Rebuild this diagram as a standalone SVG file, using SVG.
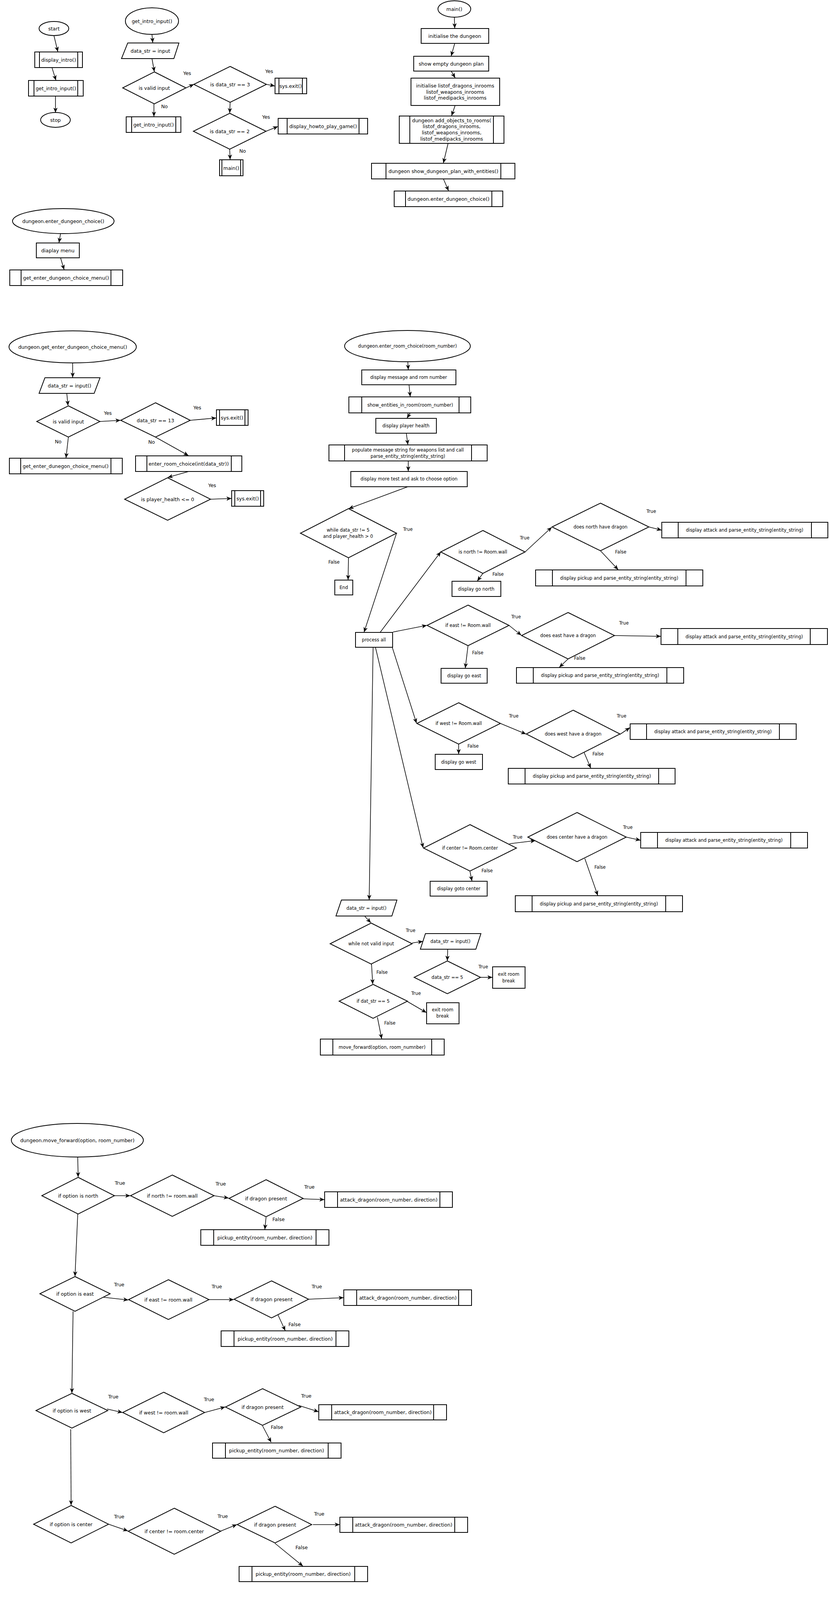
<svg xmlns="http://www.w3.org/2000/svg" width="2122" height="7752" viewBox="0 0 2122 7752">
<style>
.s{fill:#fff;stroke:#000;stroke-width:2}
.v{fill:none;stroke:#000;stroke-width:2}
.t{font-family:"DejaVu Sans","Liberation Sans",sans-serif;font-size:12.5px;text-anchor:middle;dominant-baseline:central;fill:#000}
.r{font-size:11.5px}
.c{fill:none;stroke:#000;stroke-width:1.6;marker-end:url(#a)}
</style>
<defs>
<marker id="a" viewBox="0 0 12 10" refX="11.5" refY="5" markerWidth="13" markerHeight="11" markerUnits="userSpaceOnUse" orient="auto"><path d="M0,0 L12,5 L0,10 L3.5,5 z" fill="#000"/></marker>
</defs>
<rect width="2122" height="7752" fill="#fff"/>

<g id="connectors">
<path class="c" d="M138,91 L148,132"/><path class="c" d="M133,173 L143,205"/><path class="c" d="M142,246 L142,288"/>
<path class="c" d="M389,88 L391,109"/><path class="c" d="M389,150 L395,183"/><path class="c" d="M476,225 L496,216"/><path class="c" d="M682,216 L703,220"/><path class="c" d="M589,262 L588,289"/><path class="c" d="M681,336 L711,324"/><path class="c" d="M588,382 L589,408"/><path class="c" d="M394,266 L394,298"/>
<path class="c" d="M1163,44 L1164,72"/><path class="c" d="M1164,111 L1155,143"/><path class="c" d="M1155,182 L1165,199"/><path class="c" d="M1165,270 L1156,296"/><path class="c" d="M1147,367 L1135,417"/><path class="c" d="M1135,458 L1148,488"/>
<path class="c" d="M155,598 L151,621"/><path class="c" d="M155,660 L164,690"/>
<path class="c" d="M186,929 L186,966"/><path class="c" d="M171,1007 L174,1038"/><path class="c" d="M256,1079 L308,1076"/><path class="c" d="M487,1076 L553,1070"/><path class="c" d="M175,1119 L169,1172"/><path class="c" d="M398,1119 L482,1166"/><path class="c" d="M483,1207 L430,1222"/><path class="c" d="M539,1278 L592,1276"/>
<path class="c" d="M1044,927 L1045,946"/><path class="c" d="M1047,985 L1050,1015"/><path class="c" d="M1050,1057 L1042,1070"/><path class="c" d="M1040,1109 L1044,1138"/><path class="c" d="M1045,1180 L1045,1206"/><path class="c" d="M1044,1246 L893,1302"/>
<path class="c" d="M1015,1365 L932,1618"/><path class="c" d="M892,1428 L891,1484"/>
<path class="c" d="M973,1619 L1128,1413"/><path class="c" d="M1344,1413 L1412,1350"/><path class="c" d="M1661,1349 L1693,1357"/><path class="c" d="M1537,1410 L1582,1458"/><path class="c" d="M1236,1468 L1222,1487"/>
<path class="c" d="M1006,1618 L1092,1601"/><path class="c" d="M1303,1601 L1334,1626"/><path class="c" d="M1573,1627 L1691,1629"/><path class="c" d="M1454,1687 L1432,1708"/><path class="c" d="M1198,1653 L1191,1710"/>
<path class="c" d="M1004,1657 L1066,1851"/><path class="c" d="M1281,1852 L1346,1879"/><path class="c" d="M1587,1880 L1612,1863"/><path class="c" d="M1495,1926 L1512,1966"/><path class="c" d="M1174,1905 L1174,1930"/>
<path class="c" d="M961,1657 L1083,2170"/><path class="c" d="M1304,2160 L1370,2152"/><path class="c" d="M1603,2143 L1639,2151"/><path class="c" d="M1497,2198 L1530,2292"/><path class="c" d="M1203,2231 L1208,2255"/>
<path class="c" d="M955,1657 L945,2303"/><path class="c" d="M934,2346 L949,2362"/><path class="c" d="M1055,2414 L1082,2410"/><path class="c" d="M1146,2431 L1145,2459"/><path class="c" d="M1230,2502 L1260,2502"/><path class="c" d="M951,2468 L954,2519"/><path class="c" d="M1043,2564 L1091,2592"/><path class="c" d="M966,2604 L977,2659"/>
<path class="c" d="M199,2962 L200,3013"/><path class="c" d="M293,3061 L333,3061"/><path class="c" d="M548,3061 L585,3067"/><path class="c" d="M776,3069 L830,3071"/><path class="c" d="M681,3116 L678,3147"/><path class="c" d="M199,3108 L192,3267"/>
<path class="c" d="M265,3321 L328,3328"/><path class="c" d="M535,3327 L598,3327"/><path class="c" d="M790,3326 L879,3322"/><path class="c" d="M711,3365 L730,3406"/><path class="c" d="M187,3357 L184,3566"/>
<path class="c" d="M274,3607 L313,3616"/><path class="c" d="M524,3616 L576,3602"/><path class="c" d="M765,3598 L815,3614"/><path class="c" d="M672,3650 L694,3692"/><path class="c" d="M181,3659 L182,3853"/>
<path class="c" d="M278,3902 L327,3919"/><path class="c" d="M564,3920 L606,3903"/><path class="c" d="M801,3903 L869,3903"/><path class="c" d="M704,3951 L775,4009"/>
<path class="c" d="M213,4301 L213,4321"/><path class="c" d="M140,4298 L152,5653"/><path class="c" d="M320,4374 L585,4356"/><path class="c" d="M320,4374 L553,4513"/><path class="c" d="M775,4352 L861,4361"/><path class="c" d="M681,4403 L739,4435"/><path class="c" d="M213,4427 L197,4644"/>
<path class="c" d="M305,4698 L497,4686"/><path class="c" d="M305,4698 L524,4839"/><path class="c" d="M681,4686 L752,4694"/><path class="c" d="M590,4732 L628,4766"/><path class="c" d="M194,4752 L178,4953"/>
<path class="c" d="M288,5009 L517,5040"/><path class="c" d="M288,5009 L488,5189"/><path class="c" d="M700,5040 L734,5046"/><path class="c" d="M609,5086 L620,5116"/><path class="c" d="M178,5064 L188,5295"/>
<path class="c" d="M297,5351 L455,5361"/><path class="c" d="M297,5351 L506,5552"/><path class="c" d="M649,5362 L727,5366"/><path class="c" d="M552,5410 L583,5460"/>
<path class="c" d="M150,5696 L147,5727"/><path class="c" d="M154,5767 L165,5798"/>
<path class="c" d="M233,6040 L236,6102"/><path class="c" d="M230,6040 L135,7216"/><path class="c" d="M232,6040 L135,7518"/>
<path class="c" d="M439,6153 L492,6143"/><path class="c" d="M583,6170 L605,6188"/><path class="c" d="M232,6204 L222,6283"/>
<path class="c" d="M356,6316 L453,6303"/><path class="c" d="M601,6292 L658,6300"/><path class="c" d="M867,6300 L949,6292"/><path class="c" d="M766,6350 L767,6363"/><path class="c" d="M783,6402 L792,6421"/><path class="c" d="M218,6386 L216,6463"/>
<path class="c" d="M363,6530 L457,6539"/><path class="c" d="M606,6531 L649,6527"/><path class="c" d="M857,6527 L957,6540"/><path class="c" d="M755,6577 L755,6593"/><path class="c" d="M758,6633 L780,6650"/><path class="c" d="M214,6567 L207,6679"/>
<path class="c" d="M411,6727 L462,6750"/><path class="c" d="M610,6750 L644,6773"/><path class="c" d="M851,6776 L957,6783"/><path class="c" d="M743,6824 L741,6857"/><path class="c" d="M755,6897 L765,6913"/><path class="c" d="M207,6782 L192,6977"/>
<path class="c" d="M236,7009 L278,7014"/><path class="c" d="M422,7089 L389,7108"/><path class="c" d="M387,7151 L382,7173"/>
<path class="c" d="M219,7285 L281,7294"/><path class="c" d="M433,7341 L400,7359"/><path class="c" d="M407,7401 L408,7416"/>
<path class="c" d="M255,7578 L308,7578"/><path class="c" d="M446,7623 L442,7647"/><path class="c" d="M439,7689 L445,7709"/>
</g>

<g id="labels" class="t">
<text x="479" y="187">Yes</text><text x="421" y="272">No</text><text x="689" y="182">Yes</text><text x="681" y="299">Yes</text><text x="621" y="386">No</text>
<text x="276" y="1057">Yes</text><text x="149" y="1130">No</text><text x="505" y="1043">Yes</text><text x="388" y="1131">No</text><text x="543" y="1242">Yes</text>
<g class="r">
<text x="1044" y="1355">True</text><text x="855" y="1439">False</text><text x="1343" y="1377">True</text><text x="1667" y="1309">True</text><text x="1589" y="1413">False</text><text x="1275" y="1470">False</text>
<text x="1321" y="1579">True</text><text x="1597" y="1595">True</text><text x="1484" y="1685">False</text><text x="1223" y="1671">False</text>
<text x="1315" y="1833">True</text><text x="1591" y="1833">True</text><text x="1211" y="1910">False</text><text x="1531" y="1930">False</text>
<text x="1325" y="2143">True</text><text x="1607" y="2118">True</text><text x="1536" y="2220">False</text><text x="1247" y="2229">False</text>
<text x="1051" y="2382">True</text><text x="1237" y="2475">True</text><text x="978" y="2489">False</text><text x="1065" y="2543">True</text><text x="998" y="2619">False</text>
</g>
<text x="307" y="3028">True</text><text x="565" y="3030">True</text><text x="792" y="3038">True</text><text x="713" y="3121">False</text>
<text x="305" y="3288">True</text><text x="555" y="3293">True</text><text x="811" y="3293">True</text><text x="754" y="3390">False</text>
<text x="290" y="3575">True</text><text x="535" y="3582">True</text><text x="784" y="3573">True</text><text x="709" y="3653">False</text>
<text x="305" y="3882">True</text><text x="570" y="3881">True</text><text x="817" y="3875">True</text><text x="772" y="3961">False</text>
<text x="380" y="4389">True</text><text x="808" y="4337">True</text><text x="739" y="4410">False</text>
<text x="372" y="4711">True</text><text x="713" y="4665">True</text><text x="645" y="4732">False</text>
<text x="356" y="5033">True</text><text x="710" y="5023">True</text><text x="650" y="5091">False</text>
<text x="352" y="5368">True</text><text x="680" y="5340">True</text><text x="598" y="5431">False</text>
</g>

<!-- intro -->
<g id="start"><ellipse class="s" cx="138" cy="73" rx="38" ry="18"/><text class="t" x="138" y="73">start</text></g>
<g id="display_intro"><rect class="s" x="89" y="133" width="122" height="40"/><path class="v" d="M101,133V173M199,133V173"/><text class="t" x="150" y="153">display_intro()</text></g>
<g id="get_intro_input_call"><rect class="s" x="73" y="206" width="140" height="40"/><path class="v" d="M87,206V246M199,206V246"/><text class="t" x="143" y="226">get_intro_input()</text></g>
<g id="stop"><ellipse class="s" cx="142" cy="307" rx="38" ry="19"/><text class="t" x="142" y="307">stop</text></g>

<g id="gi_start"><ellipse class="s" cx="389" cy="54" rx="68" ry="34"/><text class="t" x="389" y="54">get_intro_input()</text></g>
<g id="gi_input"><polygon class="s" points="327,110 458,110 445,150 311,150"/><text class="t" x="385" y="130">data_str = input</text></g>
<g id="gi_valid"><polygon class="s" points="395,184 476,225 395,266 314,225"/><text class="t" x="395" y="225">is valid input</text></g>
<g id="gi_eq3"><polygon class="s" points="589,170 682,216 589,262 496,216"/><text class="t" x="589" y="216">is data_str == 3</text></g>
<g id="gi_exit"><rect class="s" x="704" y="200" width="81" height="40"/><path class="v" d="M714,200V240M774,200V240"/><text class="t" x="744" y="220">sys.exit()</text></g>
<g id="gi_eq2"><polygon class="s" points="588,290 681,336 588,382 495,336"/><text class="t" x="588" y="336">is data_str == 2</text></g>
<g id="gi_howto"><rect class="s" x="712" y="303" width="229" height="40"/><path class="v" d="M735,303V343M919,303V343"/><text class="t" x="827" y="323">display_howto_play_game()</text></g>
<g id="gi_main"><rect class="s" x="562" y="409" width="60" height="41"/><path class="v" d="M568,409V450M616,409V450"/><text class="t" x="592" y="430">main()</text></g>
<g id="gi_again"><rect class="s" x="323" y="299" width="140" height="40"/><path class="v" d="M337,299V339M450,299V339"/><text class="t" x="393" y="319">get_intro_input()</text></g>

<!-- main -->
<g id="main"><ellipse class="s" cx="1163" cy="23" rx="42" ry="21"/><text class="t" x="1163" y="23">main()</text></g>
<g id="init_dungeon"><rect class="s" x="1078" y="73" width="173" height="38"/><text class="t" x="1164" y="92">initialise the dungeon</text></g>
<g id="show_empty"><rect class="s" x="1059" y="144" width="192" height="38"/><text class="t" x="1155" y="163">show empty dungeon plan</text></g>
<g id="init_lists"><rect class="s" x="1052" y="200" width="227" height="70"/><text class="t" x="1165" y="219">initialise listof_dragons_inrooms</text><text class="t" x="1165" y="235">listof_weapons_inrooms</text><text class="t" x="1165" y="250">listof_medipacks_inrooms</text></g>
<g id="add_objects"><rect class="s" x="1022" y="297" width="268" height="70"/><path class="v" d="M1049,297V367M1263,297V367"/><text class="t" x="1156" y="308">dungeon add_objects_to_rooms(</text><text class="t" x="1156" y="323">listof_dragons_inrooms,</text><text class="t" x="1156" y="339">listof_weapons_inrooms,</text><text class="t" x="1156" y="355">listof_medipacks_inrooms</text></g>
<g id="show_plan"><rect class="s" x="951" y="418" width="367" height="40"/><path class="v" d="M988,418V458M1282,418V458"/><text class="t" x="1135" y="438">dungeon show_dungeon_plan_with_entities()</text></g>
<g id="enter_choice_call"><rect class="s" x="1009" y="489" width="278" height="40"/><path class="v" d="M1038,489V529M1259,489V529"/><text class="t" x="1148" y="509">dungeon.enter_dungeon_choice()</text></g>

<!-- enter_dungeon_choice -->
<g id="edc_start"><ellipse class="s" cx="162" cy="566" rx="130" ry="32"/><text class="t" x="162" y="566">dungeon.enter_dungeon_choice()</text></g>
<g id="edc_menu"><rect class="s" x="93" y="622" width="110" height="38"/><text class="t" x="148" y="641">diaplay menu</text></g>
<g id="edc_call"><rect class="s" x="25" y="691" width="289" height="40"/><path class="v" d="M54,691V731M284,691V731"/><text class="t" x="169" y="711">get_enter_dungeon_choice_menu()</text></g>

<!-- get_enter_dungeon_choice_menu -->
<g id="gm_start"><ellipse class="s" cx="186" cy="888" rx="163" ry="41"/><text class="t" x="186" y="888">dungeon.get_enter_dungeon_choice_menu()</text></g>
<g id="gm_input"><polygon class="s" points="115,967 256,967 241,1007 100,1007"/><text class="t" x="178" y="987">data_str = input()</text></g>
<g id="gm_valid"><polygon class="s" points="175,1039 256,1079 175,1119 94,1079"/><text class="t" x="175" y="1079">is valid input</text></g>
<g id="gm_eq13"><polygon class="s" points="398,1031 487,1076 398,1119 309,1076"/><text class="t" x="398" y="1076">data_str == 13</text></g>
<g id="gm_exit"><rect class="s" x="554" y="1049" width="81" height="40"/><path class="v" d="M562,1049V1089M627,1049V1089"/><text class="t" x="594" y="1069">sys.exit()</text></g>
<g id="gm_again"><rect class="s" x="24" y="1173" width="289" height="40"/><path class="v" d="M53,1173V1213M284,1173V1213"/><text class="t" x="168" y="1193">get_enter_dunegon_choice_menu()</text></g>
<g id="gm_enter"><rect class="s" x="347" y="1167" width="272" height="40"/><path class="v" d="M376,1167V1207M592,1167V1207"/><text class="t" x="483" y="1187">enter_room_choice(int(data_str))</text></g>
<g id="gm_health"><polygon class="s" points="429,1223 539,1278 429,1332 319,1278"/><text class="t" x="429" y="1278">is player_health &lt;= 0</text></g>
<g id="gm_exit2"><rect class="s" x="593" y="1256" width="82" height="40"/><path class="v" d="M601,1256V1296M667,1256V1296"/><text class="t" x="634" y="1276">sys.exit()</text></g>

<!-- enter_room_choice -->
<g class="r">
<g id="rc_start"><ellipse class="s" cx="1043" cy="886" rx="161" ry="40"/><text class="t r" x="1043" y="886">dungeon.enter_room_choice(room_number)</text></g>
<g id="rc_msg"><rect class="s" x="926" y="947" width="241" height="38"/><text class="t r" x="1046" y="966">display message and rom number</text></g>
<g id="rc_show"><rect class="s" x="893" y="1016" width="312" height="41"/><path class="v" d="M926,1016V1057M1175,1016V1057"/><text class="t r" x="1050" y="1037">show_entities_in_room(room_number)</text></g>
<g id="rc_health"><rect class="s" x="962" y="1071" width="155" height="38"/><text class="t r" x="1039" y="1090">display player health</text></g>
<g id="rc_populate"><rect class="s" x="842" y="1139" width="405" height="41"/><path class="v" d="M882,1139V1180M1207,1139V1180"/><text class="t r" x="1044" y="1152">populate message string for weapons list and call</text><text class="t r" x="1044" y="1168">parse_entity_string(entity_string)</text></g>
<g id="rc_more"><rect class="s" x="898" y="1207" width="298" height="39"/><text class="t r" x="1047" y="1226">display more test and ask to choose option</text></g>
<g id="rc_while"><polygon class="s" points="892,1302 1015,1365 892,1428 769,1365"/><text class="t r" x="891" y="1357">while data_str != 5</text><text class="t r" x="891" y="1373">and player_health &gt; 0</text></g>
<g id="rc_end"><rect class="s" x="857" y="1485" width="46" height="38"/><text class="t r" x="880" y="1504">End</text></g>
<g id="rc_process"><rect class="s" x="910" y="1619" width="95" height="38"/><text class="t r" x="957" y="1638">process all</text></g>
<g id="rc_north"><polygon class="s" points="1236,1358 1344,1413 1236,1468 1128,1413"/><text class="t r" x="1236" y="1413">is north != Room.wall</text></g>
<g id="rc_north_dragon"><polygon class="s" points="1537,1288 1661,1349 1537,1410 1413,1349"/><text class="t r" x="1537" y="1349">does north have dragon</text></g>
<g id="rc_north_attack"><rect class="s" x="1694" y="1337" width="425" height="40"/><path class="v" d="M1736,1337V1377M2077,1337V1377"/><text class="t r" x="1906" y="1357">display attack and parse_entity_string(entity_string)</text></g>
<g id="rc_north_pickup"><rect class="s" x="1371" y="1459" width="428" height="41"/><path class="v" d="M1414,1459V1500M1756,1459V1500"/><text class="t r" x="1585" y="1480">display pickup and parse_entity_string(entity_string)</text></g>
<g id="rc_go_north"><rect class="s" x="1157" y="1488" width="125" height="39"/><text class="t r" x="1219" y="1508">display go north</text></g>
<g id="rc_east"><polygon class="s" points="1198,1549 1303,1601 1198,1653 1093,1601"/><text class="t r" x="1198" y="1601">if east != Room.wall</text></g>
<g id="rc_east_dragon"><polygon class="s" points="1454,1568 1573,1627 1454,1687 1335,1627"/><text class="t r" x="1454" y="1627">does east have a dragon</text></g>
<g id="rc_east_attack"><rect class="s" x="1692" y="1609" width="426" height="41"/><path class="v" d="M1735,1609V1650M2074,1609V1650"/><text class="t r" x="1905" y="1630">display attack and parse_entity_string(entity_string)</text></g>
<g id="rc_east_pickup"><rect class="s" x="1322" y="1709" width="428" height="40"/><path class="v" d="M1365,1709V1749M1707,1709V1749"/><text class="t r" x="1536" y="1729">display pickup and parse_entity_string(entity_string)</text></g>
<g id="rc_go_east"><rect class="s" x="1129" y="1711" width="118" height="38"/><text class="t r" x="1188" y="1730">display go east</text></g>
<g id="rc_west"><polygon class="s" points="1174,1799 1281,1852 1174,1905 1067,1852"/><text class="t r" x="1174" y="1852">if west != Room.wall</text></g>
<g id="rc_west_dragon"><polygon class="s" points="1467,1818 1587,1879 1467,1940 1347,1879"/><text class="t r" x="1467" y="1879">does west have a dragon</text></g>
<g id="rc_west_attack"><rect class="s" x="1613" y="1853" width="425" height="40"/><path class="v" d="M1655,1853V1893M1995,1853V1893"/><text class="t r" x="1825" y="1873">display attack and parse_entity_string(entity_string)</text></g>
<g id="rc_west_pickup"><rect class="s" x="1301" y="1967" width="427" height="40"/><path class="v" d="M1344,1967V2007M1686,1967V2007"/><text class="t r" x="1515" y="1987">display pickup and parse_entity_string(entity_string)</text></g>
<g id="rc_go_west"><rect class="s" x="1114" y="1931" width="121" height="39"/><text class="t r" x="1174" y="1951">display go west</text></g>
<g id="rc_center"><polygon class="s" points="1203,2111 1322,2171 1203,2230 1084,2171"/><text class="t r" x="1203" y="2171">if center != Room.center</text></g>
<g id="rc_center_dragon"><polygon class="s" points="1477,2080 1603,2143 1477,2206 1351,2143"/><text class="t r" x="1477" y="2143">does center have a dragon</text></g>
<g id="rc_center_attack"><rect class="s" x="1640" y="2131" width="427" height="40"/><path class="v" d="M1683,2131V2171M2024,2131V2171"/><text class="t r" x="1853" y="2151">display attack and parse_entity_string(entity_string)</text></g>
<g id="rc_center_pickup"><rect class="s" x="1319" y="2293" width="428" height="41"/><path class="v" d="M1362,2293V2334M1704,2293V2334"/><text class="t r" x="1533" y="2314">display pickup and parse_entity_string(entity_string)</text></g>
<g id="rc_goto_center"><rect class="s" x="1101" y="2256" width="146" height="38"/><text class="t r" x="1174" y="2275">display goto center</text></g>
<g id="rc_input"><polygon class="s" points="874,2304 1016,2304 1003,2345 860,2345"/><text class="t r" x="938" y="2325">data_str = input()</text></g>
<g id="rc_notvalid"><polygon class="s" points="950,2363 1055,2416 950,2468 845,2416"/><text class="t r" x="950" y="2416">while not valid input</text></g>
<g id="rc_input2"><polygon class="s" points="1089,2390 1231,2390 1218,2430 1076,2430"/><text class="t r" x="1153" y="2410">data_str = input()</text></g>
<g id="rc_eq5a"><polygon class="s" points="1145,2460 1230,2502 1145,2544 1060,2502"/><text class="t r" x="1145" y="2502">data_str == 5</text></g>
<g id="rc_exit_a"><rect class="s" x="1261" y="2475" width="83" height="55"/><text class="t r" x="1302" y="2494">exit room</text><text class="t r" x="1302" y="2511">break</text></g>
<g id="rc_eq5b"><polygon class="s" points="955,2520 1043,2563 955,2607 868,2563"/><text class="t r" x="955" y="2563">if dat_str == 5</text></g>
<g id="rc_exit_b"><rect class="s" x="1092" y="2567" width="83" height="54"/><text class="t r" x="1133" y="2585">exit room</text><text class="t r" x="1133" y="2601">break</text></g>
<g id="rc_move"><rect class="s" x="820" y="2660" width="317" height="41"/><path class="v" d="M852,2660V2701M1105,2660V2701"/><text class="t r" x="978" y="2681">move_forward(option, room_numnber)</text></g>
</g>

<!-- move_forward -->
<g id="mf_start"><ellipse class="s" cx="198" cy="2919" rx="169" ry="43"/><text class="t" x="198" y="2919">dungeon.move_forward(option, room_number)</text></g>
<g id="mf_north"><polygon class="s" points="200,3014 293,3061 200,3108 107,3061"/><text class="t" x="200" y="3061">if option is north</text></g>
<g id="mf_north_wall"><polygon class="s" points="441,3008 548,3061 441,3114 334,3061"/><text class="t" x="441" y="3061">if north != room.wall</text></g>
<g id="mf_north_dragon"><polygon class="s" points="681,3020 776,3068 681,3115 586,3068"/><text class="t" x="681" y="3068">if dragon present</text></g>
<g id="mf_north_attack"><rect class="s" x="831" y="3051" width="327" height="40"/><path class="v" d="M864,3051V3091M1126,3051V3091"/><text class="t" x="995" y="3071">attack_dragon(room_number, direction)</text></g>
<g id="mf_north_pickup"><rect class="s" x="514" y="3148" width="328" height="40"/><path class="v" d="M547,3148V3188M809,3148V3188"/><text class="t" x="678" y="3168">pickup_entity(room_number, direction)</text></g>
<g id="mf_east"><polygon class="s" points="192,3268 282,3312 192,3357 102,3312"/><text class="t" x="192" y="3312">if option is east</text></g>
<g id="mf_east_wall"><polygon class="s" points="431,3276 535,3327 431,3378 329,3327"/><text class="t" x="431" y="3327">if east != room.wall</text></g>
<g id="mf_east_dragon"><polygon class="s" points="695,3279 790,3326 695,3374 599,3326"/><text class="t" x="695" y="3326">if dragon present</text></g>
<g id="mf_east_attack"><rect class="s" x="880" y="3302" width="327" height="40"/><path class="v" d="M913,3302V3342M1174,3302V3342"/><text class="t" x="1044" y="3322">attack_dragon(room_number, direction)</text></g>
<g id="mf_east_pickup"><rect class="s" x="566" y="3407" width="327" height="40"/><path class="v" d="M599,3407V3447M860,3407V3447"/><text class="t" x="730" y="3427">pickup_entity(room_number, direction)</text></g>
<g id="mf_west"><polygon class="s" points="184,3567 276,3611 184,3656 92,3611"/><text class="t" x="184" y="3611">if option is west</text></g>
<g id="mf_west_wall"><polygon class="s" points="419,3564 524,3616 419,3668 314,3616"/><text class="t" x="419" y="3616">if west != room.wall</text></g>
<g id="mf_west_dragon"><polygon class="s" points="672,3555 770,3602 672,3649 577,3602"/><text class="t" x="672" y="3602">if dragon present</text></g>
<g id="mf_west_attack"><rect class="s" x="816" y="3596" width="327" height="39"/><path class="v" d="M849,3596V3635M1110,3596V3635"/><text class="t" x="980" y="3615">attack_dragon(room_number, direction)</text></g>
<g id="mf_west_pickup"><rect class="s" x="544" y="3694" width="329" height="39"/><path class="v" d="M577,3694V3733M840,3694V3733"/><text class="t" x="708" y="3713">pickup_entity(room_number, direction)</text></g>
<g id="mf_center"><polygon class="s" points="182,3854 278,3902 182,3950 86,3902"/><text class="t" x="182" y="3902">if option is center</text></g>
<g id="mf_center_wall"><polygon class="s" points="446,3861 565,3920 446,3979 328,3920"/><text class="t" x="446" y="3920">if center != room.center</text></g>
<g id="mf_center_dragon"><polygon class="s" points="704,3856 798,3903 704,3950 607,3903"/><text class="t" x="704" y="3903">if dragon present</text></g>
<g id="mf_center_attack"><rect class="s" x="870" y="3884" width="327" height="39"/><path class="v" d="M903,3884V3923M1164,3884V3923"/><text class="t" x="1033" y="3903">attack_dragon(room_number, direction)</text></g>
<g id="mf_center_pickup"><rect class="s" x="612" y="4010" width="329" height="39"/><path class="v" d="M645,4010V4049M908,4010V4049"/><text class="t" x="776" y="4029">pickup_entity(room_number, direction)</text></g>

<!-- pickup_entity -->
<g id="pe_start"><ellipse class="s" cx="207" cy="4257" rx="174" ry="43"/><text class="t" x="207" y="4257">dungeon.pickup_entity(room_number, direction)</text></g>
<g id="pe_north"><polygon class="s" points="213,4322 320,4374 213,4427 107,4374"/><text class="t" x="213" y="4374">if direction == north</text></g>
<g id="pe_north_health"><polygon class="s" points="681,4309 775,4356 681,4402 586,4356"/><text class="t" x="681" y="4356">if health to north</text></g>
<g id="pe_north_set"><rect class="s" x="862" y="4345" width="183" height="37"/><text class="t" x="953" y="4363">set player health == 100</text></g>
<g id="pe_north_append"><rect class="s" x="518" y="4436" width="444" height="38"/><text class="t" x="740" y="4455">player_weapons_list.append(room_obj_lst(room_number-1).north)</text></g>
<g id="pe_north_print"><rect class="s" x="243" y="4514" width="623" height="40"/><path class="v" d="M307,4514V4554M804,4514V4554"/><text class="t" x="555" y="4534">print pickedup and parse_entity_string(room_obj_lst[room_number-1)].north)</text></g>
<g id="pe_east"><polygon class="s" points="197,4645 305,4698 197,4752 88,4698"/><text class="t" x="197" y="4698">elif direction == east</text></g>
<g id="pe_east_health"><polygon class="s" points="590,4641 681,4686 590,4732 497,4686"/><text class="t" x="590" y="4686">if health to east</text></g>
<g id="pe_east_set"><rect class="s" x="753" y="4676" width="152" height="38"/><text class="t" x="829" y="4695">player_health = 100</text></g>
<g id="pe_east_append"><rect class="s" x="402" y="4767" width="455" height="38"/><text class="t" x="629" y="4786">player_weapons_list.append(room_obj_lst[(room_number - 1)].east)</text></g>
<g id="pe_east_print"><rect class="s" x="211" y="4840" width="630" height="40"/><path class="v" d="M274,4840V4880M779,4840V4880"/><text class="t" x="526" y="4860">print pickedup and parse_entity_string(room_obj_lst[(room_number - 1)].east)</text></g>
<g id="pe_west"><polygon class="s" points="178,4954 288,5009 178,5064 68,5009"/><text class="t" x="178" y="5009">elif direction == west</text></g>
<g id="pe_west_health"><polygon class="s" points="609,4995 700,5040 609,5086 517,5040"/><text class="t" x="609" y="5040">if health to west</text></g>
<g id="pe_west_set"><rect class="s" x="735" y="5028" width="152" height="38"/><text class="t" x="811" y="5047">player_health = 100</text></g>
<g id="pe_west_append"><rect class="s" x="392" y="5117" width="459" height="37"/><text class="t" x="621" y="5136">player_weapons_list.append(room_obj_lst[(room_number - 1)].west)</text></g>
<g id="pe_west_print"><rect class="s" x="197" y="5190" width="634" height="40"/><path class="v" d="M260,5190V5230M766,5190V5230"/><text class="t" x="513" y="5210">print pickedup and parse_entity_string(room_obj_lst[(room_number - 1)].west)</text></g>
<g id="pe_center"><polygon class="s" points="188,5296 297,5351 188,5405 78,5351"/><text class="t" x="188" y="5351">elif direction = center</text></g>
<g id="pe_center_health"><polygon class="s" points="552,5313 649,5361 552,5410 455,5361"/><text class="t" x="552" y="5361">if health to center</text></g>
<g id="pe_center_set"><rect class="s" x="728" y="5348" width="151" height="38"/><text class="t" x="803" y="5367">player_health = 100</text></g>
<g id="pe_center_append"><rect class="s" x="350" y="5461" width="469" height="37"/><text class="t" x="584" y="5480">player_weapons_list.append(room_obj_lst[(room_number - 1)].center)</text></g>
<g id="pe_center_print"><rect class="s" x="186" y="5553" width="648" height="40"/><path class="v" d="M251,5553V5593M769,5553V5593"/><text class="t" x="510" y="5573">print pickedup and parse_entity_string(room_obj_lst[(room_number - 1)].center)</text></g>
<g id="pe_print_contents"><rect class="s" x="46" y="5655" width="212" height="40"/><text class="t" x="152" y="5675">print contents of weapons list</text></g>
<g id="pe_print_list"><rect class="s" x="54" y="5728" width="185" height="38"/><text class="t" x="146" y="5747">print player_weapons_list</text></g>
<g id="pe_remove"><rect class="s" x="3" y="5799" width="327" height="42"/><path class="v" d="M36,5799V5841M298,5799V5841"/><text class="t" x="167" y="5820">remove_entity(room_number, direction)</text></g>

<!-- attack_dragon -->
<g id="ad_start"><ellipse class="s" cx="234" cy="5995" rx="178" ry="44"/><text class="t" x="234" y="5995">dungeon.attack_dragon(room_number, direction)</text></g>
<g id="ad_sw"><polygon class="s" points="236,6103 439,6153 236,6204 37,6153"/><text class="t" x="236" y="6153">if player_weapons_list contains S and W</text></g>
<g id="ad_sw_slay"><rect class="s" x="493" y="6115" width="180" height="54"/><text class="t" x="583" y="6134">print Dragon slayed</text><text class="t" x="583" y="6150">number_of_dragons -= 1</text></g>
<g id="ad_sw_remove"><rect class="s" x="446" y="6189" width="320" height="40"/><path class="v" d="M478,6189V6229M733,6189V6229"/><text class="t" x="605" y="6209">remove_entity(room_number, direction</text></g>
<g id="ad_Sw"><polygon class="s" points="222,6284 430,6335 222,6386 18,6335"/><text class="t" x="222" y="6335">elif player_weapons_list conatins S and w</text></g>
<g id="ad_Sw_hit"><rect class="s" x="454" y="6273" width="147" height="38"/><text class="t" x="528" y="6292">player_health -= 15</text></g>
<g id="ad_Sw_check"><polygon class="s" points="763,6250 867,6300 763,6350 659,6300"/><text class="t" x="763" y="6300">if player_health &gt; 0</text></g>
<g id="ad_Sw_slay"><rect class="s" x="950" y="6263" width="180" height="54"/><text class="t" x="1040" y="6282">print Dragon slayed</text><text class="t" x="1040" y="6298">number_of_dragons -= 1</text></g>
<g id="ad_Sw_killed"><rect class="s" x="667" y="6364" width="204" height="37"/><text class="t" x="769" y="6382">print Player killed by Dragon</text></g>
<g id="ad_Sw_remove"><rect class="s" x="634" y="6422" width="321" height="40"/><path class="v" d="M666,6422V6462M922,6422V6462"/><text class="t" x="794" y="6442">remove_entity(room_number, direction</text></g>
<g id="ad_sW"><polygon class="s" points="216,6464 423,6515 216,6567 9,6515"/><text class="t" x="216" y="6515">elif player_weapons_list contains s and W</text></g>
<g id="ad_sW_hit"><rect class="s" x="458" y="6520" width="148" height="38"/><text class="t" x="532" y="6539">player_health -= 25</text></g>
<g id="ad_sW_check"><polygon class="s" points="753,6476 857,6527 753,6577 650,6527"/><text class="t" x="753" y="6527">if player_health &gt; 0</text></g>
<g id="ad_sW_slay"><rect class="s" x="958" y="6514" width="180" height="54"/><text class="t" x="1048" y="6532">print Dragon slayed</text><text class="t" x="1048" y="6548">number_of_dragons -= 1</text></g>
<g id="ad_sW_killed"><rect class="s" x="654" y="6594" width="204" height="38"/><text class="t" x="756" y="6613">print Player killed by Dragon</text></g>
<g id="ad_sW_remove"><rect class="s" x="623" y="6651" width="321" height="40"/><path class="v" d="M656,6651V6691M911,6651V6691"/><text class="t" x="783" y="6671">remove_entity(room_number, direction</text></g>
<g id="ad_sw2"><polygon class="s" points="207,6680 411,6731 207,6782 2,6731"/><text class="t" x="207" y="6731">elif player_weapons_list contains s and w</text></g>
<g id="ad_sw2_hit"><rect class="s" x="463" y="6731" width="147" height="38"/><text class="t" x="536" y="6750">player_health -= 50</text></g>
<g id="ad_sw2_check"><polygon class="s" points="748,6723 851,6774 748,6824 644,6774"/><text class="t" x="748" y="6774">if player_health &gt; 0</text></g>
<g id="ad_sw2_slay"><rect class="s" x="958" y="6757" width="181" height="54"/><text class="t" x="1048" y="6776">print Dragon slayed</text><text class="t" x="1048" y="6792">number_of_dragons -= 1</text></g>
<g id="ad_sw2_killed"><rect class="s" x="638" y="6858" width="203" height="38"/><text class="t" x="740" y="6877">print Player killed by Dragon</text></g>
<g id="ad_sw2_remove"><rect class="s" x="608" y="6914" width="321" height="39"/><path class="v" d="M640,6914V6953M896,6914V6953"/><text class="t" x="768" y="6934">remove_entity(room_number, direction</text></g>
<g id="ad_else"><polygon class="s" points="192,6978 244,7004 192,7031 138,7004"/><text class="t" x="191" y="7004">else</text></g>
<g id="ad_else_box"><rect class="s" x="279" y="6970" width="287" height="118"/><text class="t" x="423" y="6988">player_health =0</text><text class="t" x="423" y="7004">print Game over player was killed</text><text class="t" x="423" y="7020">by Dragon</text><text class="t" x="423" y="7036">durationof_game = end_time - start_time</text><text class="t" x="423" y="7052">print you lasted {durationof_game}</text><text class="t" x="423" y="7069">prnt play again?</text></g>
<g id="ad_else_intro"><rect class="s" x="333" y="7109" width="109" height="40"/><path class="v" d="M345,7109V7149M431,7109V7149"/><text class="t" x="388" y="7129">display_intro</text></g>
<g id="ad_else_input"><rect class="s" x="317" y="7174" width="128" height="40"/><path class="v" d="M331,7174V7214M433,7174V7214"/><text class="t" x="382" y="7194">get_intro_input</text></g>
<g id="ad_dead"><polygon class="s" points="135,7217 244,7270 135,7325 26,7270"/><text class="t" x="135" y="7270">if player_health &lt;= 0</text></g>
<g id="ad_dead_box"><rect class="s" x="282" y="7253" width="309" height="86"/><text class="t" x="436" y="7272">print Game Over player was killed by dragon</text><text class="t" x="436" y="7287">durationof_game = end_time - start_time</text><text class="t" x="436" y="7304">print you lasted {durationof_game}</text><text class="t" x="436" y="7320">print play again</text></g>
<g id="ad_dead_intro"><rect class="s" x="344" y="7360" width="109" height="40"/><path class="v" d="M356,7360V7400M441,7360V7400"/><text class="t" x="398" y="7380">display_intro</text></g>
<g id="ad_dead_input"><rect class="s" x="348" y="7417" width="127" height="40"/><path class="v" d="M361,7417V7457M463,7417V7457"/><text class="t" x="412" y="7437">get_intro_input</text></g>
<g id="ad_win"><polygon class="s" points="135,7519 255,7578 135,7638 15,7578"/><text class="t" x="135" y="7578">if numberof_dragons = 0</text></g>
<g id="ad_win_box"><rect class="s" x="309" y="7536" width="294" height="85"/><text class="t" x="456" y="7555">print Game Over you killed all the dragons</text><text class="t" x="456" y="7570">durationof_game = end_time - start_time</text><text class="t" x="456" y="7586">print you lasted {durationof_game}</text><text class="t" x="456" y="7602">print Play Again</text></g>
<g id="ad_win_intro"><rect class="s" x="387" y="7648" width="109" height="40"/><path class="v" d="M398,7648V7688M485,7648V7688"/><text class="t" x="441" y="7668">display_intro</text></g>
<g id="ad_win_input"><rect class="s" x="385" y="7710" width="126" height="40"/><path class="v" d="M398,7710V7750M500,7710V7750"/><text class="t" x="448" y="7730">get_intro_input</text></g>
</svg>
